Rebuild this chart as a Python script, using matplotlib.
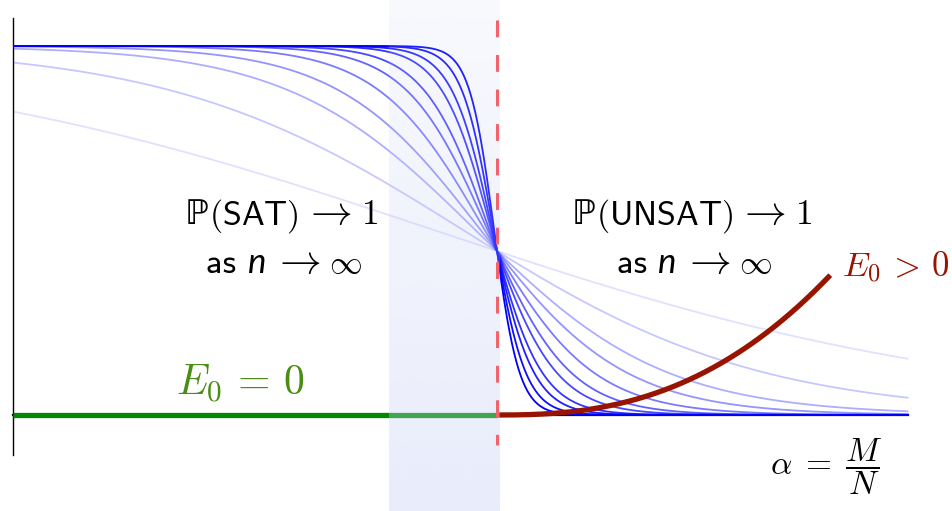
import numpy as np
import matplotlib
matplotlib.use("Agg")
import matplotlib.pyplot as plt
from matplotlib.offsetbox import TextArea, HPacker, AnnotationBbox, DrawingArea

# Clause density axis (alpha = M/N) and the SAT/UNSAT threshold
alpha_c = 4.27
alpha_max = 7.9

# Finite-size transition widths (one curve per system size, widest = smallest n)
widths = [2.43, 1.30, 0.83, 0.63, 0.47, 0.36, 0.29, 0.22, 0.18, 0.14, 0.11]
alphas = [0.12, 0.22, 0.32, 0.42, 0.52, 0.62, 0.72, 0.80, 0.88, 0.95, 1.0]
p_cross = 0.444          # probability where all curves meet at alpha_c

# Ground-state energy above threshold: E0 grows as a power of (alpha - alpha_c)
e_end = 7.21
e_top = 0.379
e_power = 2.5

# Critical window shading
window = (3.317, 4.296)

px = 4.27 / 484.0         # alpha units per pixel
py = 1.0 / 369.0          # probability units per pixel

fig = plt.figure(figsize=(9.53, 5.11), dpi=100)
ax = fig.add_axes([0, 0, 1, 1])
ax.set_xlim(-13 * px, alpha_c + 456 * px)
ax.set_ylim(-96 * py, 415 * py)
ax.axis("off")

x = np.linspace(0, alpha_max, 1200)
shift = np.log(1.0 / p_cross - 1.0)

# Axes lines
ax.plot([0, 0], [397 * py, -40 * py], color="black", lw=1.0, zorder=1)
ax.plot([0, alpha_max], [0, 0], color="black", lw=1.6, zorder=1)

# Satisfiability probability curves
for w, a in zip(widths, alphas):
    p = 1.0 / (1.0 + np.exp((x - alpha_c) / w + shift))
    ax.plot(x, p, color="#0000ff", lw=1.3, alpha=a, zorder=2,
            solid_capstyle="butt")

# E0 = 0 below threshold, E0 > 0 above
ax.plot([0, alpha_c], [0, 0], color="#008a00", lw=3.8, zorder=3,
        solid_capstyle="butt")
xe = np.linspace(alpha_c, e_end, 300)
ax.plot(xe, e_top * ((xe - alpha_c) / (e_end - alpha_c)) ** e_power,
        color="#991400", lw=3.8, zorder=3, solid_capstyle="butt")

# Critical window (gradient shading)
ny = 256
grad = np.linspace(0.40, 0.12, ny)
rgba = np.zeros((ny, 2, 4))
rgba[..., 0] = 200 / 255
rgba[..., 1] = 208 / 255
rgba[..., 2] = 245 / 255
rgba[..., 3] = grad[:, None]
ylo, yhi = ax.get_ylim()
ax.imshow(rgba, extent=[window[0], window[1], ylo, yhi], origin="lower",
          aspect="auto", interpolation="bilinear", zorder=4)

# Threshold marker
ax.plot([alpha_c, alpha_c], [395 * py, -30 * py],
        color="#f2636d", lw=2.2, ls=(0, (5.5, 5.8)), zorder=5)


def label(parts, xy):
    """Place a row of text pieces (or numeric gaps, in points) centred at xy."""
    boxes = []
    for part in parts:
        if isinstance(part, (int, float)):
            boxes.append(DrawingArea(part, 1))
            continue
        s, props = part
        tp = dict(color="black")
        tp.update(props)
        boxes.append(TextArea(s, textprops=tp))
    row = HPacker(children=boxes, align="baseline", pad=0, sep=0)
    ab = AnnotationBbox(row, xy, xycoords="data", frameon=False,
                        box_alignment=(0.5, 0.5), pad=0, zorder=6)
    ax.add_artist(ab)


cm = dict(math_fontfamily="cm")
arrow = (r"$\rightarrow$", dict(math_fontfamily="cm", fontsize=30))

for name, xc_ in (("SAT", 2.37), ("UNSAT", 5.99)):
    label([("ℙ", dict(family="DejaVu Sans", fontsize=24.5)),
           (r"$(\mathsf{%s})$" % name, dict(cm, fontsize=24.5)),
           3, arrow, 7,
           (r"$1$", dict(cm, fontsize=25.5))], (xc_, 0.547))

for xc_ in (2.391, 6.012):
    label([("as ", dict(family="cmss10", fontsize=25)),
           ("n", dict(family="Lato", style="italic", fontsize=25)),
           4, arrow, 6,
           (r"$\infty$", dict(cm, fontsize=23.5))], (xc_, 0.418))

ax.text(2.0, 0.085, r"$E_0\,=\,0$", fontsize=30, color="#4a8c14",
        ha="center", va="center", math_fontfamily="cm", zorder=6)
ax.text(7.31, 0.40, r"$E_0\,>\,0$", fontsize=25, color="#991400",
        ha="left", va="center", math_fontfamily="cm", zorder=6)
ax.text(7.17, -0.14, r"$\alpha\;=\;\dfrac{M}{N}$", fontsize=24,
        color="black", ha="center", va="center", math_fontfamily="cm",
        zorder=6)

fig.savefig("out.png", dpi=100)
